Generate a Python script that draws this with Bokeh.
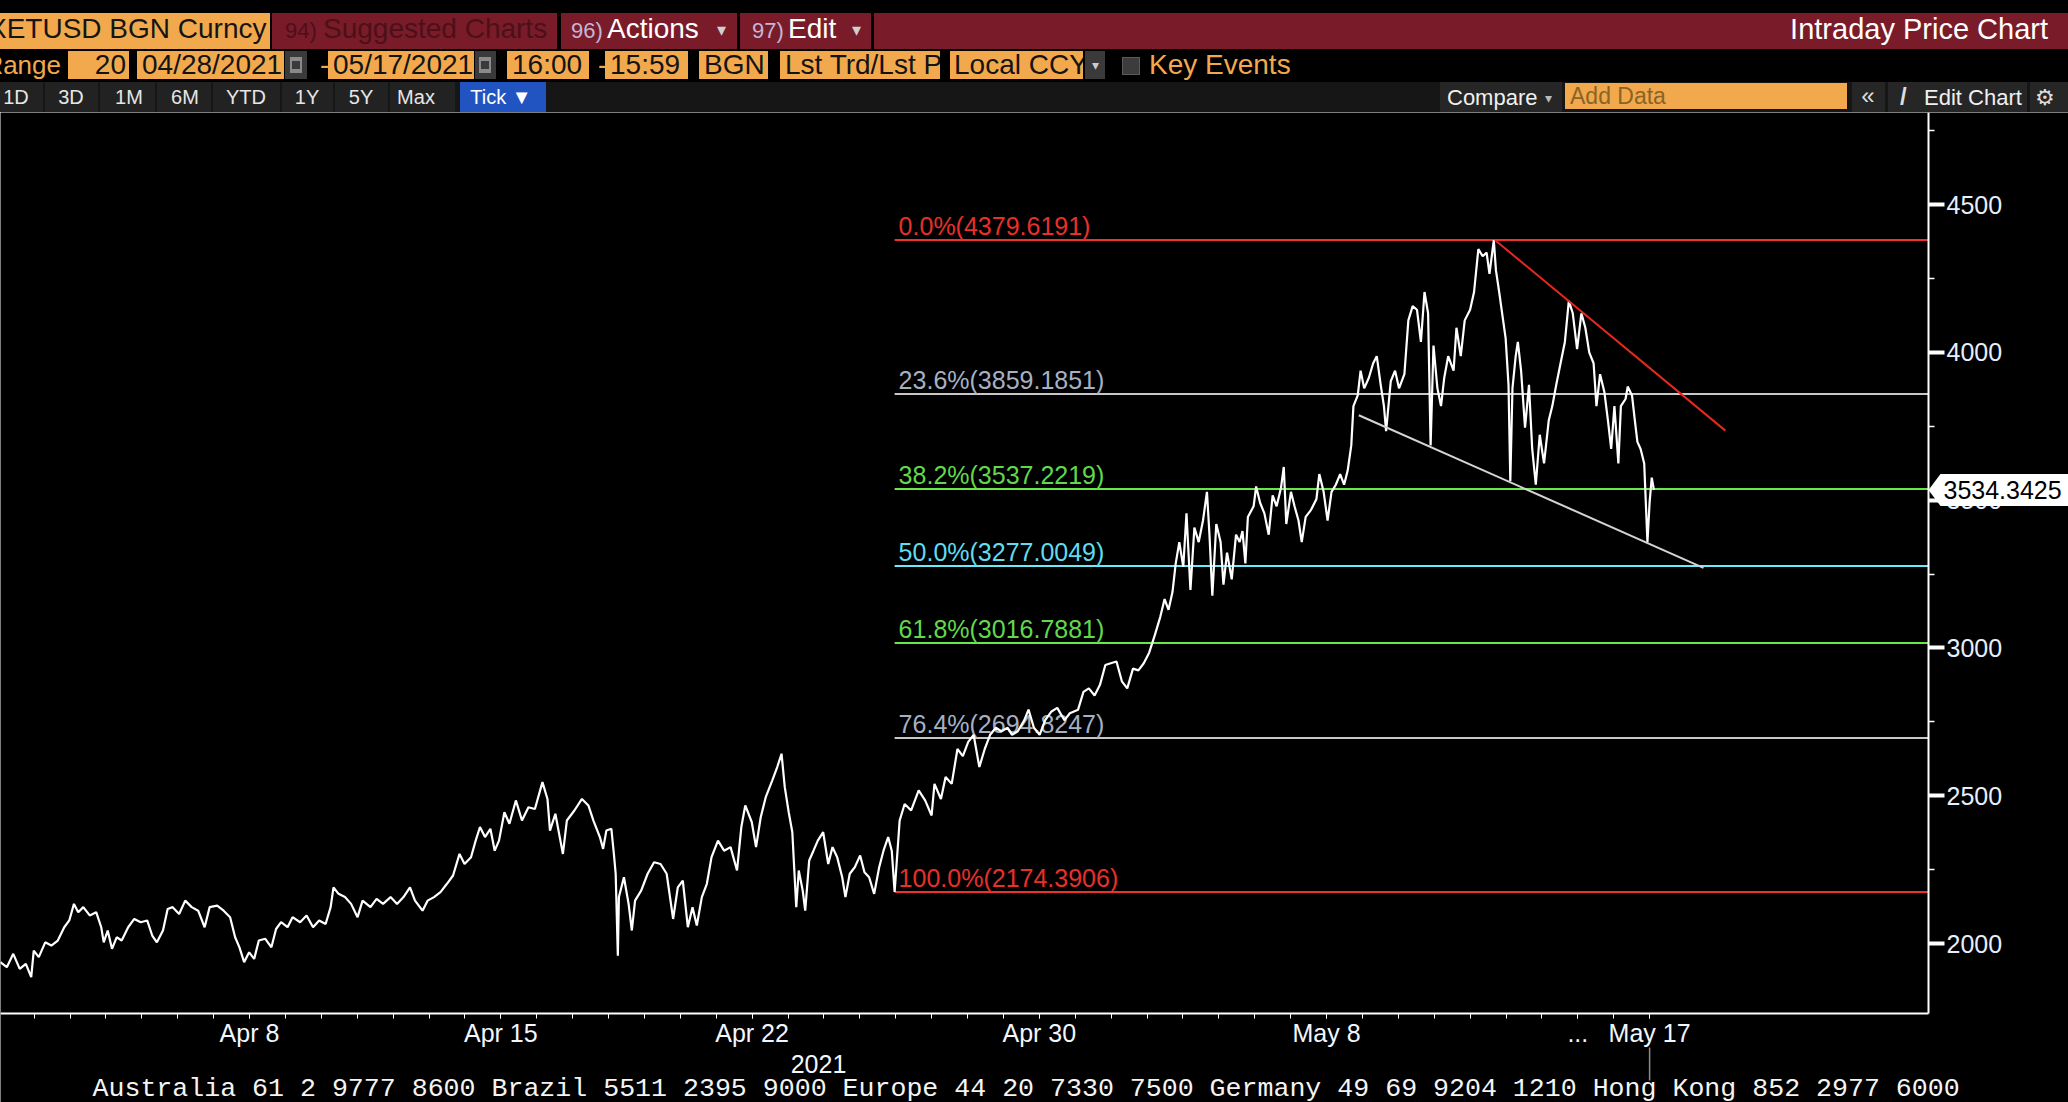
from bokeh.plotting import figure
from bokeh.models import (ColumnDataSource, Range1d, FixedTicker, Label, PolyAnnotation, Div)
from bokeh.layouts import column
from bokeh.embed import file_html
from bokeh.resources import INLINE
from bokeh.core.properties import value

# ---------------- data ----------------
# x = days since 1 April 2021 (Apr 8 = 7, May 17 = 46)
days = [0.06, 0.24, 0.42, 0.60, 0.77, 0.92, 0.99, 1.13, 1.31, 1.48, 1.66, 1.84, 1.98, 2.11, 2.23, 2.37,
        2.55, 2.73, 2.87, 2.94, 3.05, 3.17, 3.30, 3.44, 3.62, 3.79, 3.97, 4.15, 4.29, 4.42, 4.59, 4.72,
        4.86, 5.04, 5.21, 5.39, 5.57, 5.75, 5.89, 6.10, 6.28, 6.46, 6.60, 6.72, 6.85, 6.99, 7.13, 7.26,
        7.44, 7.61, 7.74, 7.88, 8.06, 8.20, 8.41, 8.59, 8.77, 8.94, 9.12, 9.26, 9.34, 9.48, 9.66, 9.83,
        10.01, 10.15, 10.37, 10.54, 10.72, 10.93, 11.11, 11.29, 11.47, 11.61, 11.82, 11.96, 12.14, 12.32,
        12.50, 12.67, 12.85, 12.99, 13.17, 13.30, 13.42, 13.56, 13.71, 13.83, 13.95, 14.10, 14.24, 14.42,
        14.59, 14.77, 14.95, 15.16, 15.30, 15.37, 15.52, 15.66, 15.73, 15.84, 16.05, 16.26, 16.44, 16.58,
        16.76, 16.85, 16.94, 17.08, 17.15, 17.20, 17.26, 17.29, 17.43, 17.56, 17.65, 17.74, 17.91, 18.09,
        18.27, 18.45, 18.62, 18.80, 18.93, 19.07, 19.21, 19.34, 19.46, 19.60, 19.74, 19.87, 20.05, 20.22,
        20.40, 20.58, 20.70, 20.81, 20.99, 21.11, 21.24, 21.38, 21.56, 21.70, 21.82, 21.91, 22.02, 22.12,
        22.23, 22.30, 22.41, 22.48, 22.59, 22.71, 22.83, 22.98, 23.12, 23.24, 23.37, 23.51, 23.60, 23.72,
        23.86, 24.01, 24.13, 24.26, 24.40, 24.54, 24.66, 24.79, 24.89, 24.97, 25.11, 25.25, 25.43, 25.64,
        25.82, 26.00, 26.08, 26.26, 26.39, 26.56, 26.72, 26.87, 27.02, 27.17, 27.33, 27.48, 27.63, 27.79,
        27.94, 28.12, 28.24, 28.40, 28.58, 28.70, 28.85, 29.01, 29.16, 29.34, 29.50, 29.70, 29.85, 30.08,
        30.23, 30.38, 30.54, 30.69, 30.84, 30.99, 31.15, 31.30, 31.45, 31.61, 31.76, 31.91, 32.06, 32.22,
        32.37, 32.49, 32.60, 32.71, 32.80, 32.90, 33.01, 33.10, 33.21, 33.32, 33.44, 33.56, 33.67, 33.74,
        33.82, 33.93, 34.05, 34.13, 34.23, 34.36, 34.48, 34.58, 34.66, 34.74, 34.81, 34.97, 35.04, 35.15,
        35.27, 35.39, 35.50, 35.61, 35.73, 35.81, 35.88, 36.01, 36.11, 36.22, 36.31, 36.42, 36.57, 36.72,
        36.80, 36.92, 37.03, 37.14, 37.26, 37.38, 37.49, 37.59, 37.69, 37.75, 37.87, 37.95, 38.05, 38.18,
        38.30, 38.40, 38.51, 38.60, 38.66, 38.79, 38.91, 39.02, 39.17, 39.28, 39.40, 39.52, 39.63, 39.73,
        39.83, 39.90, 39.98, 40.09, 40.19, 40.28, 40.39, 40.54, 40.62, 40.74, 40.85, 41.00, 41.11, 41.23,
        41.35, 41.46, 41.54, 41.66, 41.72, 41.81, 41.92, 41.99, 42.07, 42.12, 42.18, 42.27, 42.33, 42.42,
        42.53, 42.64, 42.73, 42.83, 42.94, 43.06, 43.19, 43.29, 43.40, 43.52, 43.64, 43.75, 43.86, 43.98,
        44.10, 44.21, 44.32, 44.44, 44.52, 44.62, 44.74, 44.84, 44.93, 45.02, 45.13, 45.20, 45.33, 45.39,
        45.51, 45.59, 45.66, 45.75, 45.85, 45.89, 45.94, 46.00, 46.06, 46.12]

prices = [1937, 1920, 1965, 1914, 1931, 1886, 1976, 1954, 2004, 1993, 2010, 2055, 2078, 2134, 2106, 2123,
          2095, 2106, 2055, 2004, 2044, 1982, 2021, 2010, 2055, 2083, 2072, 2078, 2027, 2004, 2044, 2117,
          2123, 2100, 2145, 2123, 2111, 2055, 2123, 2128, 2111, 2089, 2021, 1987, 1937, 1970, 1948, 2010,
          2016, 1987, 2049, 2072, 2055, 2089, 2072, 2095, 2055, 2078, 2066, 2123, 2190, 2168, 2157, 2134,
          2089, 2145, 2123, 2151, 2134, 2157, 2134, 2157, 2190, 2145, 2111, 2145, 2157, 2174,
          2202, 2230, 2303, 2269, 2292, 2348, 2394, 2360, 2388, 2314, 2348, 2444, 2405, 2484,
          2416, 2461, 2455, 2546, 2489, 2382, 2439, 2348, 2303, 2416, 2450, 2489, 2467, 2416,
          2360, 2320, 2382, 2388, 2303, 2236, 1959, 2157, 2224, 2134, 2044, 2145, 2179, 2236,
          2275, 2269, 2236, 2083, 2190, 2213, 2055, 2123, 2061, 2157, 2202, 2292, 2348, 2314,
          2326, 2247, 2394, 2467, 2411, 2326, 2427, 2495, 2551, 2597, 2642, 2529, 2444, 2377,
          2123, 2247, 2179, 2111, 2281, 2314, 2348, 2377, 2269, 2326, 2292, 2224, 2157, 2236,
          2258, 2298, 2241, 2224, 2168, 2258, 2314, 2360, 2314, 2174.39, 2416, 2472, 2450, 2518,
          2484, 2433, 2540, 2489, 2563, 2540, 2658, 2634, 2682, 2706, 2597, 2658, 2706, 2730,
          2718, 2730, 2706, 2718, 2755, 2791, 2730, 2706, 2755, 2785, 2797, 2755, 2779, 2791,
          2851, 2863, 2839, 2875, 2942, 2948, 2954, 2887, 2863, 2930, 2924, 2948, 2984, 3044,
          3105, 3165, 3129, 3189, 3286, 3358, 3274, 3455, 3196, 3407, 3358, 3431, 3528, 3383,
          3177, 3419, 3358, 3214, 3322, 3232, 3383, 3358, 3395, 3286, 3443, 3479, 3546, 3491,
          3455, 3383, 3516, 3479, 3540, 3612, 3419, 3528, 3479, 3431, 3358, 3443, 3467, 3504,
          3588, 3528, 3431, 3528, 3552, 3588, 3552, 3600, 3685, 3818, 3854, 3938, 3878, 3914,
          3963, 3987, 3890, 3818, 3733, 3902, 3938, 3878, 3926, 4108, 4156, 4144, 4035, 4204,
          4132, 3685, 4023, 3878, 3818, 3914, 3987, 3938, 4083, 3987, 4108, 4144, 4204, 4349,
          4325, 4337, 4265, 4379.62, 4277, 4204, 4108, 4047, 3890, 3564, 3878, 3987, 4035, 3938,
          3745, 3890, 3673, 3552, 3721, 3624, 3769, 3818, 3890, 3963, 4035, 4174, 4132, 4011,
          4132, 4083, 3999, 3963, 3818, 3926, 3866, 3769, 3673, 3818, 3624, 3818, 3842, 3884,
          3854, 3769, 3697, 3673, 3624, 3504, 3358, 3492, 3576, 3534.3425]

last_price = 3534.3425

fib_pcts = ["0.0%", "23.6%", "38.2%", "50.0%", "61.8%", "76.4%", "100.0%"]
fib_levels = [4379.6191, 3859.1851, 3537.2219, 3277.0049, 3016.7881, 2694.8247, 2174.3906]
fib_line_colors = ["#f0302a", "#c8c8c8", "#66e846", "#66ecfa", "#66e846", "#c8c8c8", "#f0302a"]
fib_text_colors = ["#e8302a", "#a6b0c4", "#62d84a", "#5fdcf0", "#62d84a", "#a6b0c4", "#e8302a"]
fib_start_day = 24.97

resistance_days = [41.69, 48.11]
resistance_vals = [4380.0, 3735.0]
support_days = [37.90, 47.50]
support_vals = [3787.0, 3271.0]

x_tick_days = [7, 14, 21, 29, 37, 44, 46]
x_tick_labels = ["Apr 8", "Apr 15", "Apr 22", "Apr 30", "May 8", "...", "May 17"]
x_minor_days = list(range(0, 47))
year_day = 22.85
year_label = "2021"
now_day = 46

y_ticks = [2000, 2500, 3000, 3500, 4000, 4500]
y_minor = [2250, 2750, 3250, 3750, 4250, 4750]

footer = ("Australia 61 2 9777 8600 Brazil 5511 2395 9000 Europe 44 20 7330 7500 "
          "Germany 49 69 9204 1210 Hong Kong 852 2977 6000")

# ---------------- page geometry (pixels of the 2068 x 1102 page) ----------------
PAGE_W, PAGE_H = 2068, 1102
HEAD_H = 112
PX_PER_DAY, DAY0_PX = 35.9, -2.3
PX_PER_UNIT, V4500_PX = 0.2956, 204.0


def dx(px):
    return (px - DAY0_PX) / PX_PER_DAY


def vy(py):
    return 4500 - (py - V4500_PX) / PX_PER_UNIT


X0, X1, XA = dx(0), dx(PAGE_W), dx(1928)
Y1, Y0, YA = vy(HEAD_H), vy(PAGE_H), vy(1013)

# ---------------- header (Bloomberg chrome) ----------------
ORANGE = "#f2a94e"
RED = "#7a1b29"
parts = []


def box(x, y, w, h, bg, extra=""):
    parts.append(f'<div style="position:absolute;left:{x}px;top:{y}px;width:{w}px;height:{h}px;'
                 f'background:{bg};{extra}"></div>')


def txt(x, cy, s, size, color, align="left", extra=""):
    h = round(size * 1.5)
    top = cy - h / 2
    if align == "left":
        pos = f"left:{x}px;"
    elif align == "right":
        pos = f"right:{PAGE_W - x}px;"
    else:
        pos = f"left:{x - 300}px;width:600px;text-align:center;"
    parts.append(f'<div style="position:absolute;{pos}top:{top}px;height:{h}px;line-height:{h}px;'
                 f'font-size:{size}px;color:{color};white-space:nowrap;{extra}">{s}</div>')


def field(x, w, s, pad=5, align="left", clip=False):
    ov = "overflow:hidden;" if clip else ""
    parts.append(f'<div style="position:absolute;left:{x}px;top:51px;width:{w}px;height:28px;'
                 f'background:{ORANGE};{ov}box-sizing:border-box;padding:0 {pad}px;'
                 f'line-height:28px;font-size:28px;color:#141414;white-space:nowrap;text-align:{align};">{s}</div>')


# row 1
box(0, 13, 270, 36, ORANGE)
txt(-12, 29, "XETUSD BGN Curncy", 28, "#151515")
box(272, 13, 285, 36, RED)
txt(285, 30, "94)", 22, "#4c1019")
txt(323, 29, "Suggested Charts", 28, "#4c1019")
box(561, 13, 176, 36, RED)
txt(571, 30, "96)", 22, "#c4b6d6")
txt(607, 29, "Actions", 28, "#ffffff")
txt(721, 30, "▾", 18, "#d0d0d0", align="center")
box(740, 13, 131, 36, RED)
txt(752, 30, "97)", 22, "#c4b6d6")
txt(788, 29, "Edit", 28, "#ffffff")
txt(856, 30, "▾", 18, "#d0d0d0", align="center")
box(874, 13, 1194, 36, RED)
txt(2048, 29, "Intraday Price Chart", 29, "#ffffff", align="right")

# row 2
txt(61, 65, "Range", 26, ORANGE, align="right")
field(68, 61, "20", pad=3, align="right")
field(137, 147, "04/28/2021")
box(285, 51, 22, 28, "#3a3a3a")
box(290, 57, 12, 16, "#8a8a8a")
box(292, 61, 8, 8, "#3a3a3a")
txt(320, 65, "-", 28, ORANGE)
field(328, 146, "05/17/2021")
box(475, 51, 21, 28, "#3a3a3a")
box(479, 57, 12, 16, "#8a8a8a")
box(481, 61, 8, 8, "#3a3a3a")
field(507, 82, "16:00")
txt(598, 65, "-", 28, ORANGE)
field(605, 83, "15:59")
field(699, 69, "BGN")
field(780, 160, "Lst Trd/Lst P:", clip=True)
field(950, 133, "Local CCY", pad=4, clip=True)
box(1085, 51, 20, 28, "#3a3a3a")
txt(1095, 65, "▾", 14, "#cccccc", align="center")
box(1122, 57, 18, 18, "#3c3c3c", "box-sizing:border-box;border:1px solid #5a5a5a;")
txt(1149, 65, "Key Events", 28, ORANGE)

# row 3
box(0, 82, PAGE_W, 30, "#161616")
btn_x = [0, 45, 100, 157, 213, 282, 335, 390]
btn_w = [43, 53, 55, 54, 67, 51, 53, 65]
btn_c = [16, 71, 129, 185, 246, 307, 361, 416]
btn_t = ["1D", "3D", "1M", "6M", "YTD", "1Y", "5Y", "Max"]
for bx, bw, bc, bt in zip(btn_x, btn_w, btn_c, btn_t):
    box(bx, 82, bw, 30, "#222222")
    txt(bc, 97, bt, 20, "#e6e6e6", align="center")
box(460, 82, 86, 30, "#2154c0")
txt(501, 97, "Tick ▼", 20, "#ffffff", align="center")
box(1440, 82, 122, 30, "#262626")
txt(1447, 97, "Compare", 22, "#f0f0f0")
txt(1548, 98, "▾", 14, "#bbbbbb", align="center")
box(1565, 83, 282, 26, ORANGE)
txt(1570, 96, "Add Data", 23, "#8a6424")
box(1852, 82, 33, 30, "#262626")
txt(1868, 96, "«", 24, "#dddddd", align="center")
box(1888, 82, 139, 30, "#262626")
txt(1900, 97, "/", 24, "#dddddd", extra="font-weight:bold;")
txt(1924, 97, "Edit Chart", 22, "#f0f0f0")
box(2030, 82, 38, 30, "#262626")
txt(2045, 97, "⚙", 22, "#dddddd", align="center")

header_html = ('<div style="position:relative;width:%dpx;height:%dpx;background:#000;overflow:hidden;'
               'font-family:\'Liberation Sans\',Arial,sans-serif;">%s</div>' % (PAGE_W, HEAD_H, "".join(parts)))
header = Div(text=header_html, width=PAGE_W, height=HEAD_H, margin=(0, 0, 0, 0))

# ---------------- chart ----------------
FONT = "Liberation Sans"
p = figure(width=PAGE_W, height=PAGE_H - HEAD_H, output_backend="svg", toolbar_location=None, tools="",
           x_range=Range1d(X0, X1), y_range=Range1d(Y0, Y1),
           x_axis_location="below", y_axis_location="right",
           background_fill_color="black", border_fill_color="black",
           min_border_left=0, min_border_top=0, min_border_right=0, min_border_bottom=0)
p.outline_line_color = None
p.grid.visible = False

xa = p.xaxis[0]
xa.fixed_location = YA
xa.bounds = (X0, XA)
xa.ticker = FixedTicker(ticks=x_tick_days, minor_ticks=x_minor_days)
xa.major_label_overrides = {d: l for d, l in zip(x_tick_days, x_tick_labels)}
xa.axis_line_color = "white"
xa.axis_line_width = 2
xa.major_tick_line_color = "white"
xa.major_tick_out = 5
xa.major_tick_in = 0
xa.minor_tick_line_color = "white"
xa.minor_tick_out = 5
xa.minor_tick_in = 0
xa.major_label_standoff = 0
xa.major_label_text_color = "#f2f6ff"
xa.major_label_text_font = FONT
xa.major_label_text_font_size = "25px"

ya = p.yaxis[0]
ya.fixed_location = XA
ya.bounds = (YA, Y1)
ya.ticker = FixedTicker(ticks=y_ticks, minor_ticks=y_minor)
ya.axis_line_color = "white"
ya.axis_line_width = 2
ya.major_tick_line_color = "white"
ya.major_tick_line_width = 4
ya.major_tick_out = 16
ya.major_tick_in = 0
ya.minor_tick_line_color = "white"
ya.minor_tick_line_width = 1.5
ya.minor_tick_out = 6
ya.minor_tick_in = 0
ya.major_label_standoff = 2
ya.major_label_text_color = "#e6eeff"
ya.major_label_text_font = FONT
ya.major_label_text_font_size = "25px"

fib_src = ColumnDataSource(dict(
    x0=[fib_start_day] * len(fib_levels),
    x1=[XA] * len(fib_levels),
    y=fib_levels,
    lc=fib_line_colors,
    tc=fib_text_colors,
    label=[f"{a}({b:.4f})" for a, b in zip(fib_pcts, fib_levels)],
))
p.segment(x0="x0", y0="y", x1="x1", y1="y", line_color="lc", line_width=2, source=fib_src)
p.text(x="x0", y="y", text="label", text_color="tc", text_font=value(FONT),
       text_font_size="25px", text_baseline="bottom", x_offset=4, y_offset=0, source=fib_src)

p.line(days, prices, line_color="white", line_width=2.2)
p.line(support_days, support_vals, line_color="#d4d4d4", line_width=2)
p.line(resistance_days, resistance_vals, line_color="#e8281e", line_width=2)

# "now" marker below the date axis
p.segment(x0=[now_day], x1=[now_day], y0=[vy(1047)], y1=[vy(1080)], line_color="#8c8c8c", line_width=1.5)

# year label under the dates
p.add_layout(Label(x=year_day, y=PAGE_H - 1063, y_units="screen", text=year_label,
                   text_align="center", text_baseline="middle", text_color="#f2f6ff",
                   text_font=FONT, text_font_size="25px"))

# last-price tag on the price axis
half = 16 / PX_PER_UNIT
tag = PolyAnnotation(xs=[dx(1940), X1 + 1, X1 + 1, dx(1940), XA],
                     ys=[last_price + half, last_price + half, last_price - half, last_price - half, last_price],
                     fill_color="white", fill_alpha=1.0, line_color=None)
p.add_layout(tag)
p.add_layout(Label(x=dx(1943), y=last_price, text=f"{last_price:.4f}",
                   text_baseline="middle", text_color="black", text_font=FONT, text_font_size="25px"))

# footer line
p.add_layout(Label(x=92, y=PAGE_H - 1088, x_units="screen", y_units="screen", text=footer,
                   text_font="Liberation Mono", text_font_size="26.6px", text_color="#f4f4f4",
                   text_baseline="middle"))

layout = column(header, p, spacing=0, margin=(0, 0, 0, 0))
open("out.html", "w").write(file_html(layout, INLINE))
